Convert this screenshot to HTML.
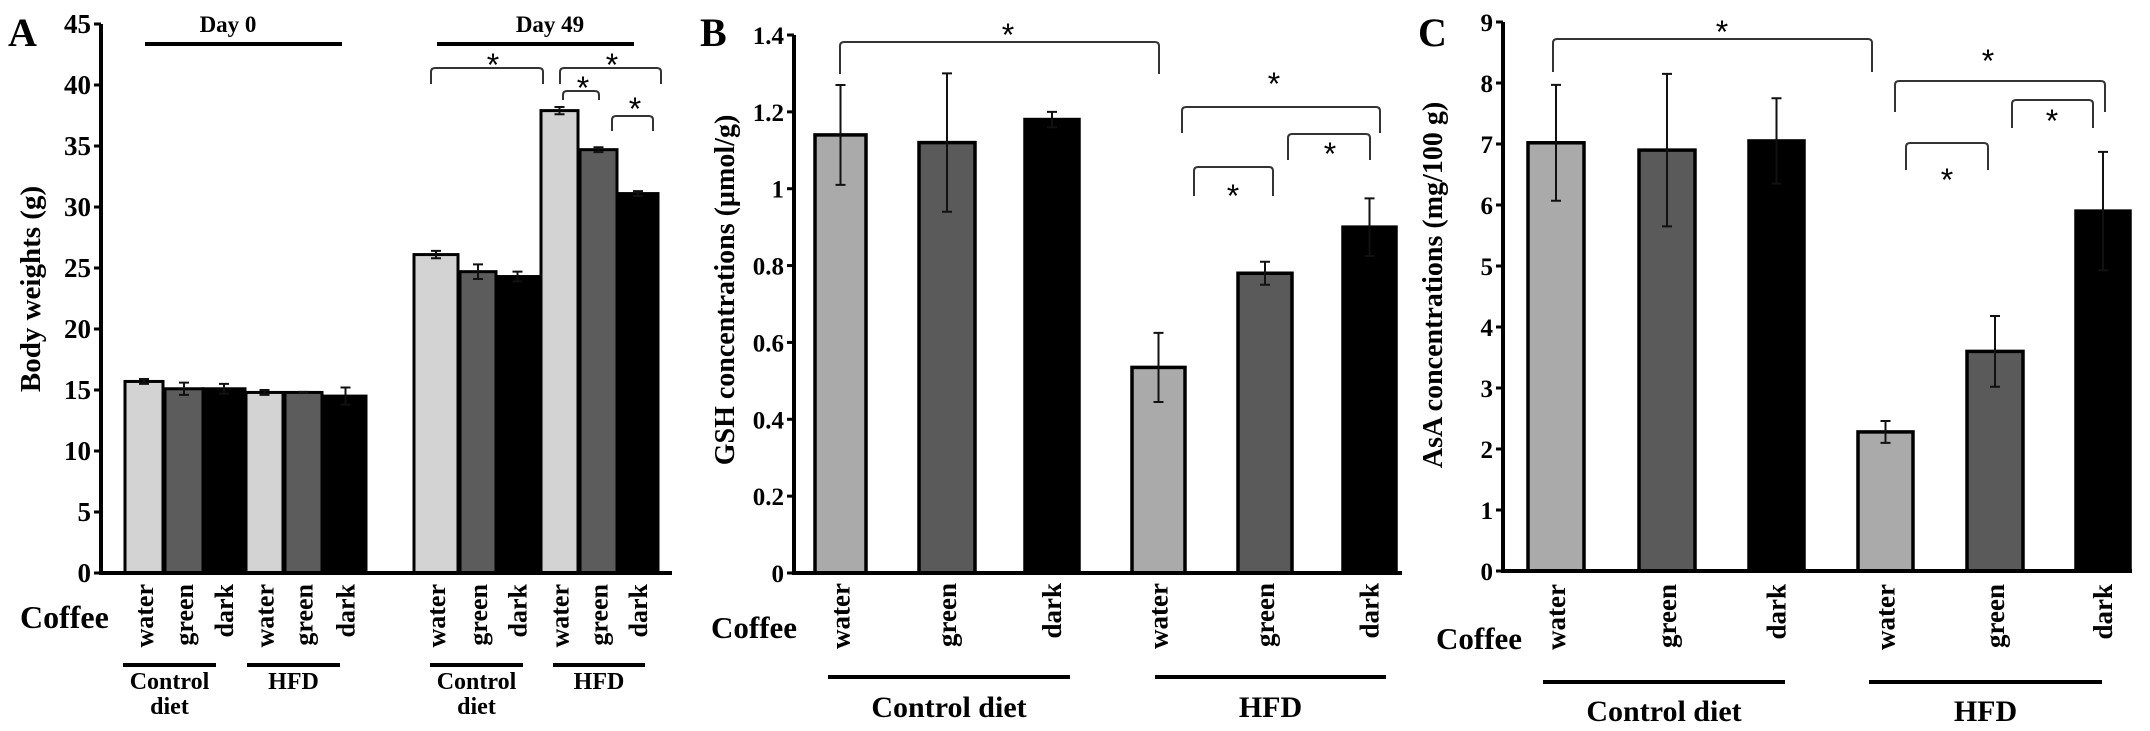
<!DOCTYPE html>
<html><head><meta charset="utf-8"><style>
html,body{margin:0;padding:0;background:#fff;}
svg{display:block;font-family:"Liberation Serif",serif;font-weight:bold;}
</style></head><body>
<svg id="fig" width="2150" height="731" viewBox="0 0 2150 731" xmlns="http://www.w3.org/2000/svg"></svg>
<script>
// ---- Panel A data ----
const aCategories = ["water","green","dark","water","green","dark","water","green","dark","water","green","dark"];
const aValues = [15.7,15.1,15.1,14.8,14.8,14.5,26.1,24.7,24.3,37.9,34.7,31.1];
const aErrors = [0.2,0.5,0.4,0.2,0.05,0.7,0.3,0.6,0.4,0.3,0.2,0.2];
const aTicks = [0,5,10,15,20,25,30,35,40,45];
// ---- Panel B data ----
const bCategories = ["water","green","dark","water","green","dark"];
const bValues = [1.14,1.12,1.18,0.535,0.78,0.90];
const bErrors = [0.13,0.18,0.02,0.09,0.03,0.075];
const bTicks = [0,0.2,0.4,0.6,0.8,1,1.2,1.4];
// ---- Panel C data ----
const cCategories = ["water","green","dark","water","green","dark"];
const cValues = [7.02,6.9,7.05,2.28,3.6,5.9];
const cErrors = [0.95,1.25,0.7,0.18,0.58,0.97];
const cTicks = [0,1,2,3,4,5,6,7,8,9];

const NS="http://www.w3.org/2000/svg";
const svg=document.getElementById('fig');
function mk(tag,attrs,parent){const e=document.createElementNS(NS,tag);for(const k in attrs)e.setAttribute(k,attrs[k]);(parent||svg).appendChild(e);return e;}
function txt(s,x,y,size,attrs,parent){const e=mk('text',Object.assign({x:x,y:y,'font-size':size},attrs||{}),parent);e.textContent=s;return e;}

function panel(o){
  const g=mk('g',{});
  
  
  const y=v=>o.y0-(v/o.max)*(o.y0-o.yTop);
  o.values.forEach((v,i)=>{
    const x0=o.barX[i][0],x1=o.barX[i][1];
    const r=mk('rect',{x:x0,y:y(v),width:x1-x0,height:o.y0-y(v),fill:o.colors[i%3],stroke:'#000','stroke-width':o.sw},g);
    
    
    const cx=(x0+x1)/2, e=o.errors[i];
    const eb=mk('path',{d:`M${cx},${y(v+e)}V${y(v-e)}M${cx-5},${y(v+e)}H${cx+5}M${cx-5},${y(v-e)}H${cx+5}`,stroke:'#111','stroke-width':2,fill:'none'},g);
    
    
    const t=txt(o.cats[i],cx+9,o.labelTop,o.labSize,{'text-anchor':'end',transform:`rotate(-90 ${cx+9} ${o.labelTop})`},g);
    
    
  });
  const ax=mk('path',{d:`M${o.ax},${o.yTop}V${o.y0}H${o.axEnd}`,stroke:'#000','stroke-width':4,fill:'none'},g);
  
  
  o.ticks.forEach(t=>{
    mk('line',{x1:o.ax-7,x2:o.ax,y1:y(t),y2:y(t),stroke:'#000','stroke-width':3},g);
    const l=txt(String(t),o.ax-10,y(t)+9,o.tickSize,{'text-anchor':'end'},g);
    
    
  });
  const yt=txt(o.ytitle,o.ytX,o.ytY,o.ytSize,{'text-anchor':'middle',transform:`rotate(-90 ${o.ytX} ${o.ytY})`},g);
  
  
  const cf=txt('Coffee',o.coffee[0],o.coffee[1],o.coffee[2],{},g);
  
  
  const pl=txt(o.letter,o.letterPos[0],o.letterPos[1],40,{},g);
  
  
  o.groups.forEach(gr=>{
    const ln=mk('line',{x1:gr[0],x2:gr[1],y1:gr[2],y2:gr[2],stroke:'#000','stroke-width':4},g);
    
    
    gr[3].forEach((s,k)=>{const t=txt(s,(gr[0]+gr[1])/2,gr[4]+k*gr[5]*1.05,gr[5],{'text-anchor':'middle'},g);
      
      });
  });
  o.brackets.forEach(b=>{
    const p=mk('path',{d:`M${b[0]},${b[3]}V${b[2]+4}Q${b[0]},${b[2]} ${b[0]+4},${b[2]}H${b[1]-4}Q${b[1]},${b[2]} ${b[1]},${b[2]+4}V${b[4]}`,stroke:'#333','stroke-width':2,fill:'none'},g);
    
    
    const s=txt('*',b[5],b[6],32,{'text-anchor':'middle','font-weight':'normal','font-family':'"Liberation Sans",sans-serif'},g);
    
    
  });
}

panel({name:'panel-a-body-weights',tag:'a',letter:'A',letterPos:[8,46],values:aValues,errors:aErrors,cats:aCategories,ticks:aTicks,max:45,
  y0:573,yTop:24,ax:101,axEnd:672,sw:3,colors:['#d3d3d3','#5c5c5c','#000'],
  barX:[[125,163],[165,203],[203,245],[246,283],[285,322],[325,366],[414,458],[460,496],[497,538],[541,578],[580,617],[618,658]],
  labelTop:584,labSize:26,tickSize:27,ytitle:'Body weights (g)',ytX:40,ytY:289,ytSize:29,coffee:[20,628,32],
  groups:[[123,216,665,['Control','diet'],689,24],[247,340,665,['HFD'],689,24],[430,523,665,['Control','diet'],689,24],[553,645,665,['HFD'],689,24],[145,342,44,[],0,0],[437,634,44,[],0,0]],
  brackets:[[431,543,68,84,84,493,76],[560,661,68,84,84,612,76],[563,599,91,100,100,583,99],[612,653,116,131,131,635,120]]});
txt('Day 0',228,32,23,{'text-anchor':'middle'});
txt('Day 49',550,32,23,{'text-anchor':'middle'});

panel({name:'panel-b-gsh',tag:'b',letter:'B',letterPos:[700,46],values:bValues,errors:bErrors,cats:bCategories,ticks:bTicks,max:1.4,
  y0:573,yTop:35,ax:794,axEnd:1402,sw:3.5,colors:['#aaaaaa','#5a5a5a','#000'],
  barX:[[815,866],[919,975],[1025,1079],[1132,1185],[1238,1292],[1343,1396]],
  labelTop:583,labSize:27,tickSize:25,ytitle:'GSH concentrations (µmol/g)',ytX:734,ytY:290,ytSize:28,coffee:[711,638,31],
  groups:[[828,1070,677,['Control diet'],717,30],[1155,1386,677,['HFD'],717,30]],
  brackets:[[840,1159,42,74,74,1008,46],[1182,1380,107,133,133,1274,95],[1194,1273,167,196,196,1233,207],[1288,1370,134,160,160,1330,165]]});

panel({name:'panel-c-asa',tag:'c',letter:'C',letterPos:[1418,46],values:cValues,errors:cErrors,cats:cCategories,ticks:cTicks,max:9,
  y0:571,yTop:22,ax:1503,axEnd:2132,sw:3.5,colors:['#aaaaaa','#5a5a5a','#000'],
  barX:[[1528,1584],[1639,1695],[1749,1804],[1858,1913],[1967,2023],[2076,2130]],
  labelTop:584,labSize:27,tickSize:25,ytitle:'AsA concentrations (mg/100 g)',ytX:1442,ytY:285,ytSize:28,coffee:[1436,649,31],
  groups:[[1543,1785,682,['Control diet'],721,30],[1869,2102,682,['HFD'],721,30]],
  brackets:[[1553,1872,39,72,72,1722,43],[1895,2105,81,112,112,1988,72],[1906,1988,143,170,170,1947,191],[2012,2093,100,128,128,2052,132]]});
</script>
</body></html>
